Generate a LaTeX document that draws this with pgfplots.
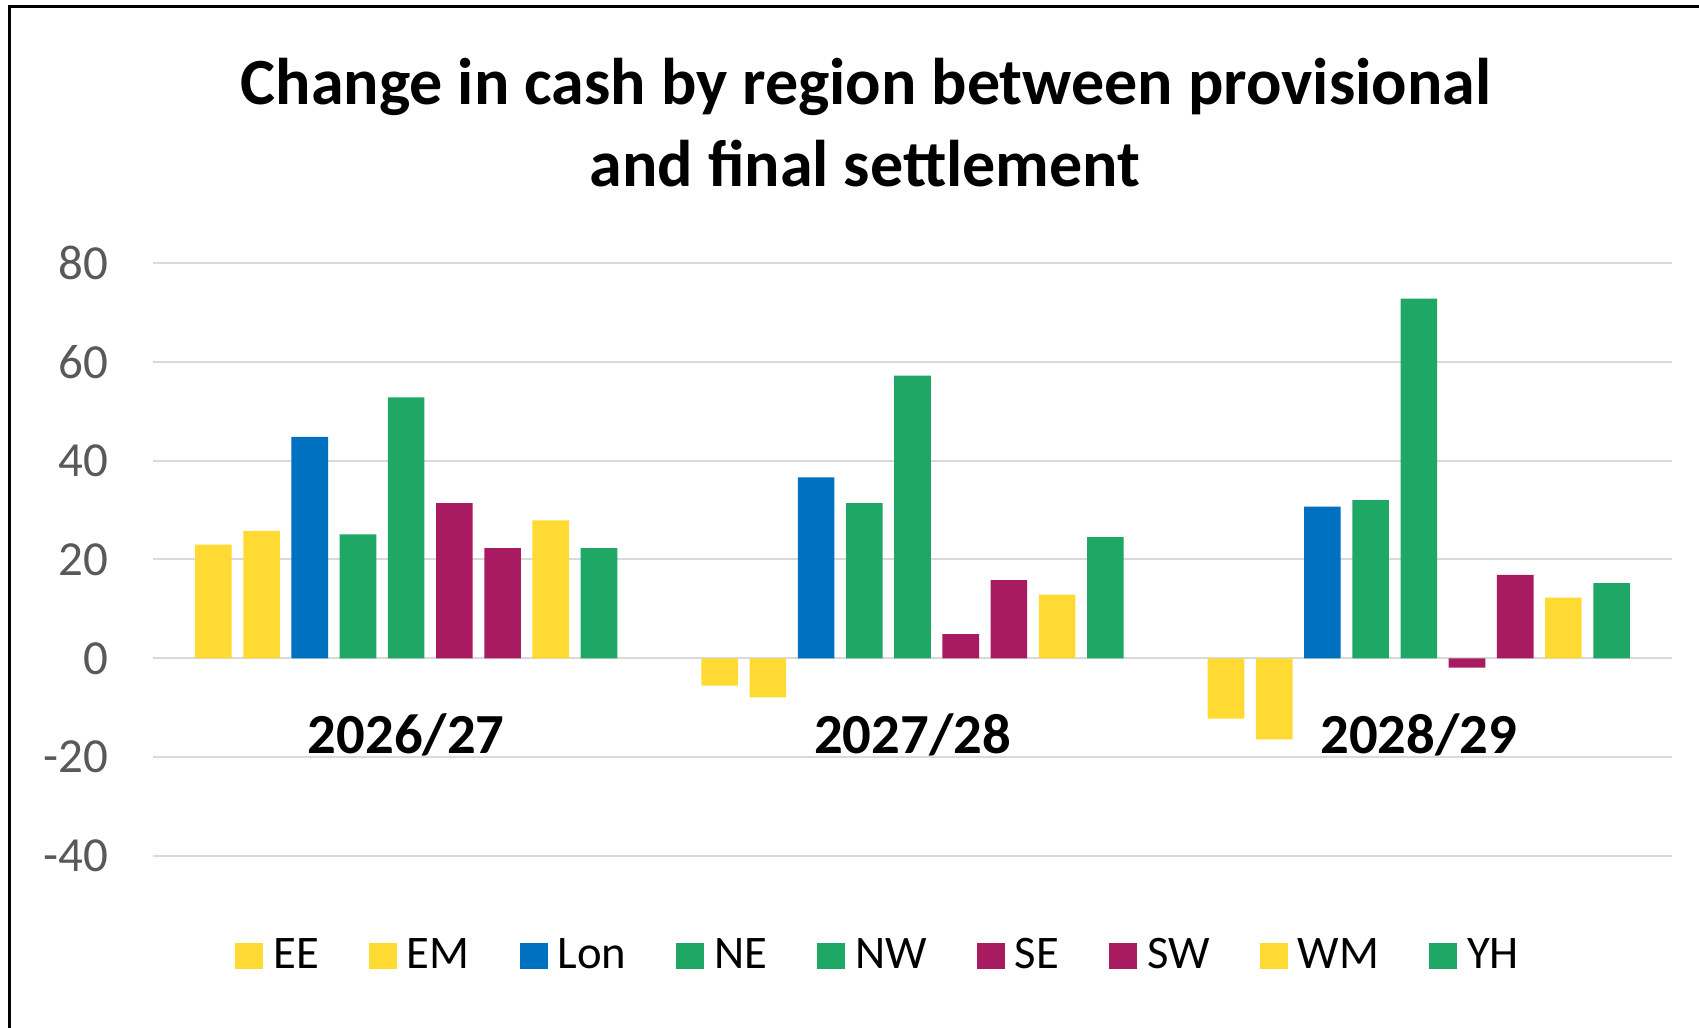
\documentclass[border=0pt]{standalone}
\usepackage{pgfplots}
\pgfplotsset{compat=1.18}
\usepackage{fontspec}
\setmainfont{Carlito}
\definecolor{cyel}{HTML}{FFDA33}
\definecolor{cblue}{HTML}{0070C0}
\definecolor{cgreen}{HTML}{1FA865}
\definecolor{cmag}{HTML}{A81B60}
\definecolor{ctick}{HTML}{595959}
\definecolor{cgrid}{HTML}{D9D9D9}
\begin{document}
\begin{tikzpicture}
\useasboundingbox (0,0) rectangle (509.7pt,308.4pt);
% frame (left and top edges visible)
\draw[line width=0.9pt] (2.7pt,0) -- (2.7pt,306.3pt) -- (509.7pt,306.3pt);
% title
\node[anchor=base,font=\fontsize{19.8}{24}\selectfont\bfseries] at (259.8pt,276.9pt) {Change in cash by region between provisional};
\node[anchor=base,font=\fontsize{19.8}{24}\selectfont\bfseries] at (259.5pt,252.3pt) {and final settlement};
\begin{axis}[
  at={(45.9pt,51.6pt)}, anchor=south west,
  width=455.7pt, height=177.9pt, scale only axis,
  xmin=-0.5, xmax=2.5, ymin=-40, ymax=80,
  xtick=\empty,
  ytick={-40,-20,0,20,40,60,80},
  yticklabels={-40,-20,0,20,40,60,80},
  ymajorgrids, grid style={color=cgrid,line width=0.6pt},
  axis line style={draw=none}, tick style={draw=none},
  yticklabel style={font=\fontsize{14.7}{16}\selectfont, text=ctick, anchor=east, xshift=-10pt},
  ybar=3.48pt, bar width=10.98pt,
  legend style={at={(0.48,-0.1686)}, anchor=center, draw=none, fill=none,
    font=\fontsize{14}{16}\selectfont,
    /tikz/every even column/.append style={column sep=12.0pt},
    /tikz/every odd column/.append style={column sep=0pt},
    nodes={inner xsep=3pt}},
  legend columns=9,
  clip=false,
]
\pgfplotsset{mybar/.style={fill=#1, draw=none, legend image code/.code={\fill[#1] (0pt,-3.9pt) rectangle (8.4pt,3.9pt);}}}
\addplot[mybar=cyel] coordinates {(0,23) (1,-5.5) (2,-12.2)};
\addplot[mybar=cyel] coordinates {(0,25.8) (1,-7.9) (2,-16.4)};
\addplot[mybar=cblue] coordinates {(0,44.8) (1,36.6) (2,30.7)};
\addplot[mybar=cgreen] coordinates {(0,25.1) (1,31.4) (2,32)};
\addplot[mybar=cgreen] coordinates {(0,52.8) (1,57.2) (2,72.8)};
\addplot[mybar=cmag] coordinates {(0,31.4) (1,4.9) (2,-1.9)};
\addplot[mybar=cmag] coordinates {(0,22.3) (1,15.8) (2,16.9)};
\addplot[mybar=cyel] coordinates {(0,27.9) (1,12.9) (2,12.3)};
\addplot[mybar=cgreen] coordinates {(0,22.3) (1,24.5) (2,15.2)};
\legend{EE,EM,Lon,NE,NW,SE,SW,WM,YH}
\node[anchor=base,font=\fontsize{17}{20}\selectfont\bfseries] at (axis cs:0,-19.2) {2026/27};
\node[anchor=base,font=\fontsize{17}{20}\selectfont\bfseries] at (axis cs:1,-19.2) {2027/28};
\node[anchor=base,font=\fontsize{17}{20}\selectfont\bfseries] at (axis cs:2,-19.2) {2028/29};
\end{axis}
\end{tikzpicture}
\end{document}
